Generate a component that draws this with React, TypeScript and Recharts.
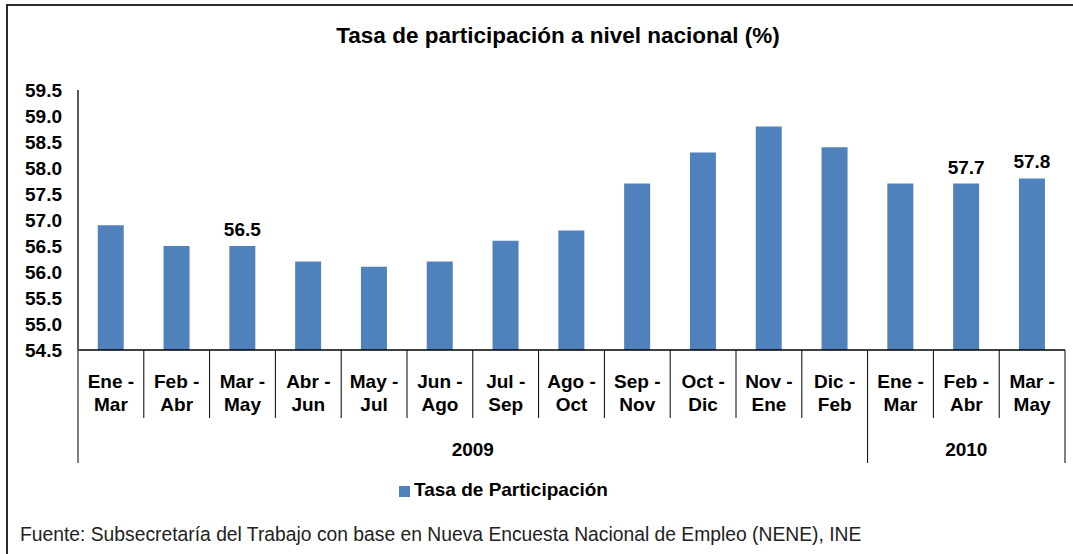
import React from 'react'
import { Bar, BarChart, LabelList, Legend, XAxis, YAxis } from 'recharts'

const periods = [
  'Ene - Mar', 'Feb - Abr', 'Mar - May', 'Abr - Jun', 'May - Jul', 'Jun - Ago', 'Jul - Sep',
  'Ago - Oct', 'Sep - Nov', 'Oct - Dic', 'Nov - Ene', 'Dic - Feb', 'Ene - Mar', 'Feb - Abr', 'Mar - May',
]
const years = [
  '2009', '2009', '2009', '2009', '2009', '2009', '2009', '2009', '2009', '2009', '2009', '2009',
  '2010', '2010', '2010',
]
const tasa = [56.9, 56.5, 56.5, 56.2, 56.1, 56.2, 56.6, 56.8, 57.7, 58.3, 58.8, 58.4, 57.7, 57.7, 57.8]
const labeledIdx = [2, 13, 14]
const yTicks = [54.5, 55.0, 55.5, 56.0, 56.5, 57.0, 57.5, 58.0, 58.5, 59.0, 59.5]

const data = periods.map((p, i) => ({ period: p, year: years[i], tasa: tasa[i] }))

const W = 1073
const H = 554
const PLOT_LEFT = 78
const PLOT_RIGHT = 1065
const BAND = (PLOT_RIGHT - PLOT_LEFT) / periods.length
const FONT = '"Liberation Sans", Arial, sans-serif'

const PeriodTick = (props: any) => {
  const { x, y, payload, index } = props
  const [a, b] = String(payload.value).split(' - ')
  const left = x - BAND / 2
  return (
    <g>
      <line x1={left} x2={left} y1={y} y2={y + 68} stroke="#000" strokeWidth={1} />
      {index === periods.length - 1 && (
        <line x1={left + BAND} x2={left + BAND} y1={y} y2={y + 68} stroke="#000" strokeWidth={1} />
      )}
      <text x={x} y={y + 38} textAnchor="middle" fontSize={19} fontWeight="bold" fill="#000" fontFamily={FONT}>
        {a} -
      </text>
      <text x={x} y={y + 61} textAnchor="middle" fontSize={19} fontWeight="bold" fill="#000" fontFamily={FONT}>
        {b}
      </text>
    </g>
  )
}

const YearTick = (props: any) => {
  const { x, y, index } = props
  const yr = years[index]
  if (index > 0 && years[index - 1] === yr) return <g />
  const n = years.filter((v) => v === yr).length
  const left = x - BAND / 2
  const right = left + n * BAND
  const isLast = index + n >= years.length
  return (
    <g>
      <line x1={left} x2={left} y1={y} y2={y + 45} stroke="#000" strokeWidth={1} />
      {isLast && <line x1={right} x2={right} y1={y} y2={y + 45} stroke="#000" strokeWidth={1} />}
      <text x={(left + right) / 2} y={y + 38} textAnchor="middle" fontSize={19} fontWeight="bold" fill="#000" fontFamily={FONT}>
        {yr}
      </text>
    </g>
  )
}

const ValueLabel = (props: any) => {
  const { x, y, width, value, index } = props
  if (!labeledIdx.includes(index)) return null
  return (
    <text x={x + width / 2} y={y - 10} textAnchor="middle" fontSize={19} fontWeight="bold" fill="#000" fontFamily={FONT}>
      {Number(value).toFixed(1)}
    </text>
  )
}

export default function App() {
  return (
    <div style={{ position: 'relative', width: W, height: H, background: '#fff', fontFamily: FONT, overflow: 'hidden' }}>
      <style>{'body{margin:0}'}</style>
      {/* marco superior e izquierdo */}
      <div
        style={{
          position: 'absolute',
          left: 6,
          top: 4,
          width: W,
          height: H,
          borderTop: '2px solid #2b2b2b',
          borderLeft: '2px solid #2b2b2b',
        }}
      />
      <div
        style={{
          position: 'absolute',
          left: 258,
          top: 23,
          width: 600,
          textAlign: 'center',
          fontSize: 22.5,
          lineHeight: '26px',
          fontWeight: 'bold',
          color: '#000',
        }}
      >
        Tasa de participación a nivel nacional (%)
      </div>
      <BarChart
        width={W}
        height={H}
        data={data}
        margin={{ top: 90, right: W - PLOT_RIGHT, bottom: 91, left: 0 }}
        barCategoryGap="30%"
      >
        <XAxis
          dataKey="period"
          height={68}
          interval={0}
          tickSize={0}
          tickMargin={0}
          tickLine={false}
          axisLine={{ stroke: '#000', strokeWidth: 1.5 }}
          tick={<PeriodTick />}
        />
        <XAxis
          xAxisId="year"
          dataKey="year"
          height={45}
          interval={0}
          tickSize={0}
          tickMargin={0}
          tickLine={false}
          axisLine={false}
          tick={<YearTick />}
        />
        <YAxis
          width={PLOT_LEFT}
          domain={[54.5, 59.5]}
          ticks={yTicks}
          interval={0}
          tickSize={0}
          tickMargin={16}
          tickLine={false}
          axisLine={{ stroke: '#595959', strokeWidth: 2 }}
          tickFormatter={(v: number) => v.toFixed(1)}
          tick={{ fill: '#000', fontSize: 19, fontWeight: 'bold', fontFamily: FONT }}
          allowDataOverflow
        />
        <Legend
          verticalAlign="middle"
          align="center"
          iconType="square"
          iconSize={11}
          wrapperStyle={{ top: 479, left: 399, width: 'auto' }}
          formatter={(v: string) => (
            <span style={{ color: '#000', fontWeight: 'bold', fontSize: 19, fontFamily: FONT }}>{v}</span>
          )}
        />
        <Bar dataKey="tasa" name="Tasa de Participación" fill="#4F81BD" isAnimationActive={false}>
          <LabelList dataKey="tasa" content={<ValueLabel />} />
        </Bar>
      </BarChart>
      <div
        style={{
          position: 'absolute',
          left: 20,
          top: 523,
          fontSize: 19.3,
          lineHeight: '23px',
          color: '#222',
          whiteSpace: 'nowrap',
        }}
      >
        Fuente: Subsecretaría del Trabajo con base en Nueva Encuesta Nacional de Empleo (NENE), INE
      </div>
    </div>
  )
}
